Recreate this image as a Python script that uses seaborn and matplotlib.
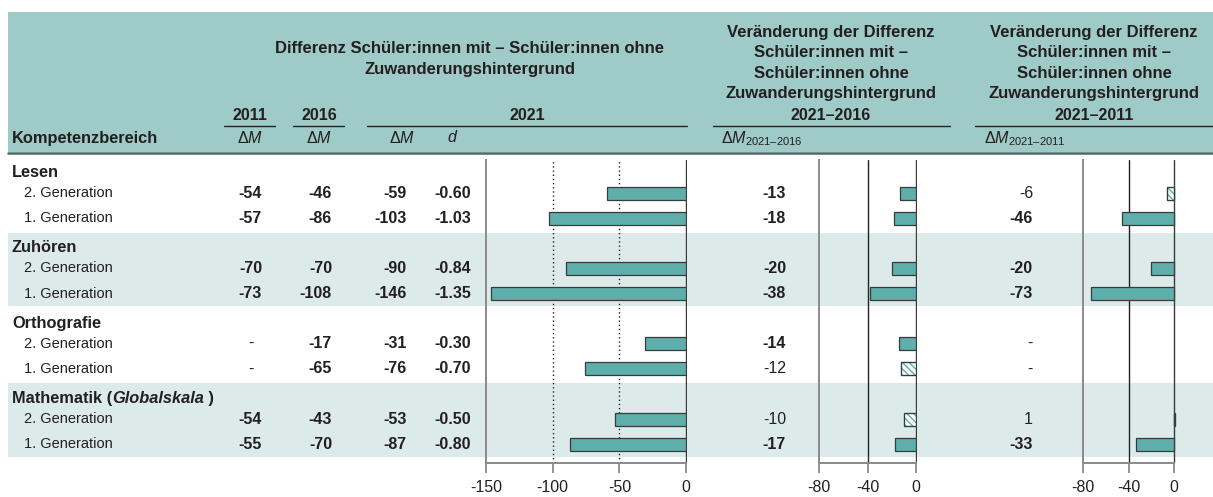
import pandas as pd
import seaborn as sns
import matplotlib.pyplot as plt
from matplotlib.patches import Rectangle
from matplotlib.lines import Line2D
from matplotlib.transforms import blended_transform_factory

# data
domains = ["Lesen", "Zuhören", "Orthografie", "Mathematik"]
generations = ["2. Generation", "1. Generation"]

dm_2011 = [-54, -57, -70, -73, None, None, -54, -55]
dm_2016 = [-46, -86, -70, -108, -17, -65, -43, -70]
dm_2021 = [-59, -103, -90, -146, -31, -76, -53, -87]
d_2021 = [-0.60, -1.03, -0.84, -1.35, -0.30, -0.70, -0.50, -0.80]
chg_2016 = [-13, -18, -20, -38, -14, -12, -10, -17]
sig_2016 = [True, True, True, True, True, False, False, True]
chg_2011 = [-6, -46, -20, -73, None, None, 1, -33]
sig_2011 = [False, True, True, True, None, None, False, True]

# colours
HEAD = "#9ecac8"
BAND = "#dcebea"
BAR = "#5eafab"
EDGE = "#3a3a3a"
TXT = "#231f20"
GRAY = "#8a8a8a"

sns.set_theme(style="white")
plt.rcParams["font.family"] = ["Liberation Sans", "DejaVu Sans"]
plt.rcParams["mathtext.fontset"] = "custom"
plt.rcParams["mathtext.rm"] = "Liberation Sans"
plt.rcParams["mathtext.it"] = "Liberation Sans:italic"
plt.rcParams["mathtext.bf"] = "Liberation Sans:bold"
plt.rcParams["axes.unicode_minus"] = False
plt.rcParams["hatch.linewidth"] = 1.0

W, H = 1213, 497


def fx(px):
    return px / W


def fy(py):
    return 1 - py / H


# one categorical slot per table row (header rows stay empty)
order = []
gen_keys = []
for g in domains:
    order.append(g + "|head")
    for gen in generations:
        order.append(g + "|" + gen)
        gen_keys.append(g + "|" + gen)

fig = plt.figure(figsize=(W / 100, H / 100), dpi=100)

top_px, bot_px = 160, 463
ylim = (11.75, -0.32)

panels = [
    dict(left=486, zero=686, vmin=-150, vmax=0.8, ticks=[-150, -100, -50, 0],
         dotted=[-100, -50], solid=[], values=dm_2021, sig=[True] * 8),
    dict(left=819, zero=916, vmin=-80, vmax=0.8, ticks=[-80, -40, 0],
         dotted=[], solid=[-40], values=chg_2016, sig=sig_2016),
    dict(left=1083, zero=1174, vmin=-80, vmax=3, ticks=[-80, -40, 0],
         dotted=[], solid=[-40], values=chg_2011, sig=sig_2011),
]

axes = []
for p in panels:
    ppu = (p["zero"] - p["left"]) / (-p["vmin"])
    right = p["zero"] + p["vmax"] * ppu
    ax = fig.add_axes([fx(p["left"]), fy(bot_px), (right - p["left"]) / W,
                       (bot_px - top_px) / H])
    df = pd.DataFrame({"key": gen_keys, "value": p["values"], "sig": p["sig"]})
    df = df.dropna(subset=["value"])
    sns.barplot(data=df, x="value", y="key", order=order, orient="h",
                width=0.52, color=BAR, saturation=1, edgecolor=EDGE,
                linewidth=0.9, errorbar=None, zorder=2, ax=ax)
    sig_by_key = dict(zip(df["key"], df["sig"]))
    for bar in list(ax.patches):
        key = order[int(round(bar.get_y() + bar.get_height() / 2))]
        if not sig_by_key.get(key, True):
            bar.set_facecolor("white")
            bar.set_edgecolor(BAR)
            bar.set_hatch("\\\\\\\\\\")
            ax.add_patch(Rectangle((bar.get_x(), bar.get_y()), bar.get_width(),
                                   bar.get_height(), fill=False, edgecolor=EDGE,
                                   linewidth=0.9, zorder=2.1))
    ax.set_xlim(p["vmin"], p["vmax"])
    ax.set_ylim(*ylim)
    ax.set_facecolor("none")
    ax.set_xlabel("")
    ax.set_ylabel("")
    ax.set_yticks([])
    ax.set_xticks(p["ticks"], labels=[str(t) for t in p["ticks"]])
    ax.tick_params(axis="x", direction="out", length=7, width=1.3, color=GRAY,
                   labelsize=11.5, labelcolor=TXT, pad=5, bottom=True)
    for s in ["top", "right"]:
        ax.spines[s].set_visible(False)
    for s in ["left", "bottom"]:
        ax.spines[s].set_color(GRAY)
        ax.spines[s].set_linewidth(1.4)
    ax.spines["bottom"].set_bounds(p["vmin"], 0)
    ax.axvline(0, color=EDGE, lw=1.0, zorder=1)
    for v in p["dotted"]:
        ax.axvline(v, color="#222222", lw=1.0, ls=(0, (1, 2)), zorder=1)
    for v in p["solid"]:
        ax.axvline(v, color="#222222", lw=1.0, zorder=1)
    axes.append(ax)

ax1 = axes[0]
tr = blended_transform_factory(fig.transFigure, ax1.transData)

# header block
fig.add_artist(Rectangle((fx(8), fy(152)), 1 - fx(8), (152 - 12) / H,
                         transform=fig.transFigure, facecolor=HEAD,
                         edgecolor="none", zorder=-5))
fig.add_artist(Line2D([fx(8), 1], [fy(153), fy(153)], transform=fig.transFigure,
                      color="#4d6a68", lw=1.8, zorder=-4))

# light bands behind Zuhören and Mathematik
for g in ["Zuhören", "Mathematik"]:
    y0 = order.index(g + "|head") - 0.42
    y1 = order.index(g + "|" + generations[-1]) + 0.5
    fig.add_artist(Rectangle((fx(8), y0), 1 - fx(8), y1 - y0, transform=tr,
                             facecolor=BAND, edgecolor="none", zorder=-5))

hb = dict(color=TXT, fontweight="bold")
fig.text(fx(470), fy(59), "Differenz Schüler:innen mit – Schüler:innen ohne\nZuwanderungshintergrund",
         ha="center", va="center", fontsize=12, linespacing=1.55, **hb)
for cx in [831, 1094]:
    fig.text(fx(cx), fy(63), "Veränderung der Differenz\nSchüler:innen mit –\nSchüler:innen ohne\nZuwanderungshintergrund",
             ha="center", va="center", fontsize=12, linespacing=1.42, **hb)

years = [("2011", 250, 224, 275), ("2016", 319, 293, 344), ("2021", 527, 367, 687),
         ("2021–2016", 831, 713, 950), ("2021–2011", 1094, 975, 1213)]
for label, cx, x0, x1 in years:
    fig.text(fx(cx), fy(116), label, ha="center", va="center", fontsize=11.5, **hb)
    fig.add_artist(Line2D([fx(x0), fx(x1)], [fy(126), fy(126)],
                          transform=fig.transFigure, color="#222222", lw=1.0))

fig.text(fx(12), fy(138), "Kompetenzbereich", ha="left", va="center", fontsize=11.8, **hb)
for cx in [250, 319, 402]:
    fig.text(fx(cx), fy(138), r"$\Delta M$", ha="center", va="center", fontsize=11.5, color=TXT)
fig.text(fx(452), fy(138), "d", ha="center", va="center", fontsize=11.5,
         style="italic", color=TXT)
fig.text(fx(721), fy(139), r"$\Delta M_{\mathrm{2021–2016}}$", ha="left", va="center",
         fontsize=11.5, color=TXT)
fig.text(fx(984), fy(139), r"$\Delta M_{\mathrm{2021–2011}}$", ha="left", va="center",
         fontsize=11.5, color=TXT)

# row labels (group titles sit a little below their slot)
head_shift = 0.18
for g in domains:
    yh = order.index(g + "|head") + head_shift
    if g == "Mathematik":
        t1 = fig.text(fx(12), yh, "Mathematik (", transform=tr, ha="left",
                      va="center", fontsize=11.8, **hb)
        t2 = ax1.annotate("Globalskala", xy=(1, 0), xycoords=t1, ha="left",
                          va="bottom", fontsize=11.8, style="italic",
                          annotation_clip=False, **hb)
        ax1.annotate(" )", xy=(1, 0), xycoords=t2, ha="left", va="bottom",
                     fontsize=11.8, annotation_clip=False, **hb)
    else:
        fig.text(fx(12), yh, g, transform=tr, ha="left", va="center",
                 fontsize=11.8, **hb)
    for gen in generations:
        fig.text(fx(24), order.index(g + "|" + gen), gen, transform=tr,
                 ha="left", va="center", fontsize=10.5, color=TXT)

# value columns
columns = [
    (dm_2011, [True] * 8, 262, "int"),
    (dm_2016, [True] * 8, 332, "int"),
    (dm_2021, [True] * 8, 407, "int"),
    (d_2021, [True] * 8, 471, "float"),
    (chg_2016, sig_2016, 786, "int"),
    (chg_2011, sig_2011, 1033, "int"),
]
for vals, sigs, xr, kind in columns:
    for key, v, s in zip(gen_keys, vals, sigs):
        y = order.index(key)
        if v is None:
            if xr == 262:
                fig.text(fx(251), y, "-", transform=tr, ha="center", va="center",
                         fontsize=11.5, color=TXT)
            else:
                fig.text(fx(xr), y, "-", transform=tr, ha="right", va="center",
                         fontsize=11.5, color=TXT)
            continue
        txt = f"{v:.2f}" if kind == "float" else f"{v:d}"
        fig.text(fx(xr), y, txt, transform=tr, ha="right", va="center",
                 fontsize=11.5, color=TXT, fontweight="bold" if s else "normal")

fig.savefig("out.png", dpi=100)
